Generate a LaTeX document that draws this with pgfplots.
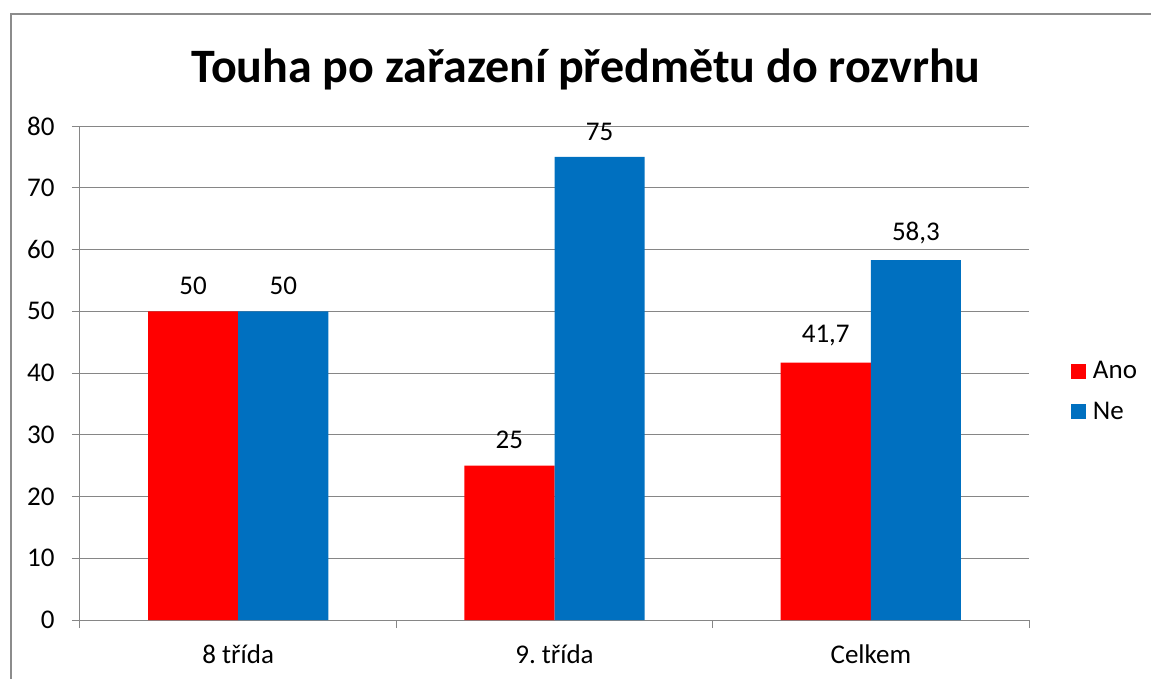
\documentclass[border=0pt]{standalone}
\usepackage{fontspec}
\setmainfont{Carlito}
\usepackage{pgfplots}
\pgfplotsset{compat=1.18}
\frenchspacing
\definecolor{cRed}{HTML}{FF0000}
\definecolor{cBlue}{HTML}{0070C0}
\definecolor{cGrid}{HTML}{868686}
\definecolor{cFrame}{HTML}{8C8C8C}
\begin{document}
\begin{tikzpicture}[x=1pt,y=1pt]
\useasboundingbox (0,0) rectangle (1151,678);
\draw[cFrame,line width=2pt] (11,-10) -- (11,664) -- (1165,664);
\node[font=\fontsize{48}{54}\selectfont\bfseries] at (586,609) {Touha po zařazení předmětu do rozvrhu};
\begin{axis}[
  at={(80pt,58pt)}, anchor=south west,
  scale only axis, width=949pt, height=494pt,
  ybar=0pt, bar width=0.285,
  xmin=-0.5, xmax=2.5, ymin=0, ymax=80,
  ytick={0,10,...,80},
  xtick={-0.5,0.5,1.5,2.5}, xticklabels={},
  extra x ticks={0,1,2},
  extra x tick labels={8 třída,9. třída,Celkem},
  extra x tick style={major tick length=0pt, grid=none},
  tick align=outside, major tick length=8pt,
  xtick pos=bottom, ytick pos=left,
  ymajorgrids, grid style={cGrid, line width=1pt},
  axis line style={cGrid, line width=1pt},
  tick style={cGrid, line width=1pt},
  axis x line*=bottom, axis y line*=left,
  ticklabel style={font=\fontsize{27}{32}\selectfont},
  yticklabel style={xshift=-14pt},
  xticklabel style={yshift=-21pt},
  /pgf/number format/assume math mode=true,
  nodes near coords={\pgfmathprintnumber[use comma]{\pgfplotspointmeta}},
  nodes near coords style={font=\fontsize{27}{32}\selectfont, black, yshift=13pt},
  legend style={at={(1.044,0.4626)}, anchor=west, draw=none, fill=none,
    font=\fontsize{27}{32}\selectfont, inner sep=0pt,
    row sep=18pt, nodes={inner xsep=7pt}},
  legend cell align=left,
  legend image code/.code={\fill[#1] (0pt,-7.5pt) rectangle (15pt,7.5pt);},
]
\addplot[fill=cRed, draw=none] coordinates {(0,50) (1,25) (2,41.7)};
\addplot[fill=cBlue, draw=none] coordinates {(0,50) (1,75) (2,58.3)};
\legend{Ano,Ne}
\end{axis}
\end{tikzpicture}
\end{document}
